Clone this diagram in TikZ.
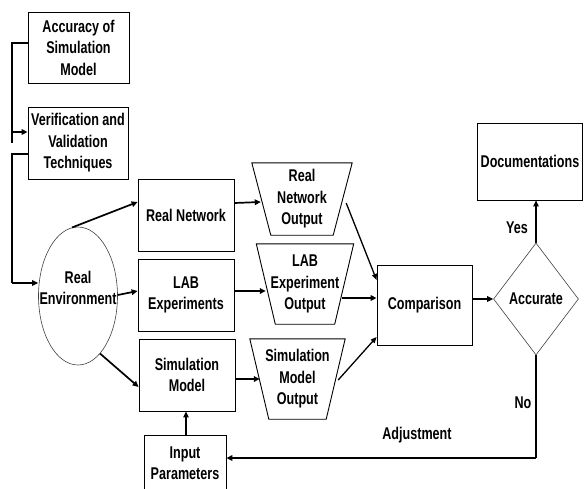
\documentclass[tikz,border=0pt]{standalone}
\usepackage{fontspec}
\setmainfont{Liberation Sans}[FakeStretch=0.74]
\usetikzlibrary{arrows.meta,calc,shapes.geometric}

\begin{document}
\begin{tikzpicture}[x=1pt,y=-1pt,
  every node/.style={font=\fontsize{17}{21.5}\selectfont\bfseries, align=center, inner sep=0pt},
  box/.style={draw, line width=0.8pt},
  thin shape/.style={draw=black!75, line width=0.6pt},
  trap/.style={draw=none},
  flow/.style={line width=1.7pt, -{Triangle[length=6pt,width=5.5pt]}},
  slant/.style={line width=1.3pt, -{Triangle[length=6pt,width=5pt]}},
  plainline/.style={line width=1.7pt}]

\useasboundingbox (0,0) rectangle (584,488);

% left column
\node[box, minimum width=101, minimum height=71] (acc) at (78.5,47.5) {Accuracy of\\Simulation\\Model};
\node[box, minimum width=100, minimum height=72] (vv) at (78,143) {Verification and\\Validation\\Techniques};
\node[ellipse, thin shape, minimum width=79, minimum height=138,
      label={[align=center, yshift=8pt]center:Real\\Environment}] (env) at (78,296) {};

% experiment boxes
\node[box, minimum width=96, minimum height=72] (rn) at (186,215) {Real Network};
\node[box, minimum width=96, minimum height=72] (lab) at (186,295) {LAB\\Experiments};
\node[box, minimum width=96, minimum height=72] (sim) at (187,375) {Simulation\\Model};
\node[box, minimum width=82, minimum height=56] (inp) at (185,463) {Input\\Parameters};

% output trapezoids (outline drawn below)
\node[trap, minimum width=100, minimum height=72] (rno) at (302,199) {Real\\Network\\Output};
\node[trap, minimum width=97, minimum height=80] (leo) at (305,284) {LAB\\Experiment\\Output};
\node[trap, minimum width=95, minimum height=80] (smo) at (297.5,379) {Simulation\\Model\\Output};
\foreach \t in {rno,leo,smo}{
  \draw[line width=0.9pt] (\t.north west) -- (\t.north east)
    -- ($(\t.south east)+(-19,0)$) -- ($(\t.south west)+(19,0)$) -- cycle;
}

% right part
\node[box, minimum width=95, minimum height=80] (cmp) at (424.5,305) {Comparison};
\node[diamond, thin shape, minimum width=85, minimum height=112] (acr) at (536,299) {Accurate};
\node[box, minimum width=105, minimum height=77] (doc) at (530,161.5) {Documentations};

% labels
\node (yes) at (517,228) {Yes};
\node (no) at (523,403) {No};
\node (adj) at (417,435) {Adjustment};

% feedback coordinates
\coordinate (c1) at (12,43);
\coordinate (c2) at (12,154);
\coordinate (c3) at (536,458);

% left loop connectors
\draw[plainline] (acc.west |- c1) -- (c1) -- (c1 |- vv.west);
\draw[flow] (c1 |- 0,132) -- (vv.west |- 0,132);
\draw[plainline] (vv.west |- c2) -- (c2) -- (c2 |- 0,283);
\draw[flow] (c2 |- 0,283) -- (env.west |- 0,283);

% environment to experiments
\draw[flow] (env.95) -- (rn.west |- 0,202);
\draw[flow] (lab.west -| env.east) -- (lab.west |- 0,291);
\draw[flow] (env.-69) -- (sim.west |- 0,387);

% experiments to outputs
\draw[flow] (rn.east |- 0,203) -- ($(rno.west)+(9,3)$);
\draw[flow] (lab.east |- 0,291) -- ($(leo.west)+(9.5,7)$);
\draw[flow] (sim.east |- 0,379) -- ($(smo.west)+(10,0)$);

% outputs to comparison
\draw[slant] ($(rno.east)+(-6,4)$) -- (cmp.west |- 0,280);
\draw[flow] ($(leo.east)+(-12,14)$) -- (cmp.west |- 0,298);
\draw[slant] ($(smo.east)+(-7,1)$) -- (cmp.west |- 0,337);

% decision
\draw[flow] (cmp.east |- 0,299) -- (acr.west);
\draw[flow, line width=1.2pt] (acr.north) -- (doc.south -| acr.north);
\draw[plainline] (acr.south) -- (c3);
\draw[flow] (c3) -- (inp.east |- c3);
\draw[flow, line width=1.2pt] (inp.north -| 186,0) -- (sim.south -| 186,0);
\end{tikzpicture}
\end{document}
